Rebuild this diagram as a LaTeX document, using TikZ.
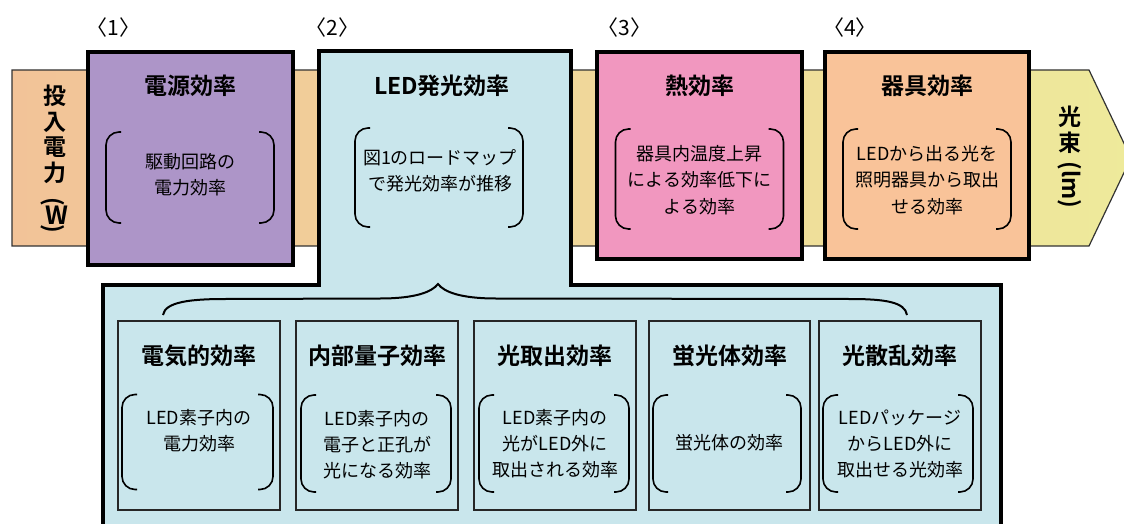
\documentclass[tikz,border=0pt]{standalone}
\usepackage{fontspec}
\setmainfont{Noto Sans CJK JP}[BoldFont={Noto Sans CJK JP Bold}]
\usepackage{graphicx}
\definecolor{bandL}{HTML}{F2C398}
\definecolor{bandR}{HTML}{EEEA9B}
\definecolor{cpurple}{HTML}{AD95C8}
\definecolor{cblue}{HTML}{C9E6EC}
\definecolor{cpink}{HTML}{F197BF}
\definecolor{corange}{HTML}{F9C399}
\begin{document}
\begin{tikzpicture}[x=1pt,y=-1pt,
  mainbox/.style={draw=black, line width=4pt, inner sep=0pt, outer sep=0pt},
  subbox/.style={draw=black!85, line width=2pt, fill=cblue, inner sep=0pt, outer sep=0pt, minimum width=162pt, minimum height=189pt},
  ttl/.style={font=\bfseries\fontsize{23}{28}\selectfont, inner sep=0pt},
  body/.style={font=\fontsize{18}{26.5}\selectfont, align=center, inner sep=0pt},
  numlbl/.style={font=\fontsize{21}{24}\selectfont, inner sep=0pt},
  vt/.style={font=\bfseries\fontsize{23}{25.5}\selectfont, align=center, inner sep=0pt},
  brk/.style={inner sep=0pt, outer sep=0pt},
  brkline/.style={line width=1.6pt, rounded corners=13pt},
]
\useasboundingbox (0,0) rectangle (1124,524);
\clip (0,0) rectangle (1124,524);

% flow band
\path[draw=black!80, line width=1.2pt, left color=bandL, right color=bandR]
  (12,70) -- (1089,70) -- (1131,158) -- (1089,246) -- (12,246) -- cycle;

% box 2 (L-shaped, with lower detail area)
\draw[line width=4pt, fill=cblue] (319,51) -- (571,51) -- (571,285) -- (1001,285)
  -- (1001,545) -- (103,545) -- (103,285) -- (319,285) -- cycle;

% main boxes
\node[mainbox, fill=cpurple, minimum width=205pt, minimum height=213pt] (b1) at (190.5,158.5) {};
\node[mainbox, fill=cpink, minimum width=205pt, minimum height=207pt] (b3) at (699.5,155.5) {};
\node[mainbox, fill=corange, minimum width=204pt, minimum height=207pt] (b4) at (927,155.5) {};

% numbers
\node[numlbl] (n1) at (113.5,28) {〈1〉};
\node[numlbl] (n2) at (332.5,28) {〈2〉};
\node[numlbl] (n3) at (624.5,28) {〈3〉};
\node[numlbl] (n4) at (850,28) {〈4〉};

% side labels
\node[vt, anchor=north] (inp) at (55,85) {投\\入\\電\\力\\[-9pt]\rotatebox{-90}{(\rotatebox{90}{\fontsize{25}{25}\selectfont W})}};
\node[vt, anchor=north] (out) at (1070,106) {光\\束\\[-15pt]\rotatebox{-90}{(lm)}};

% titles
\node[ttl] (t1) at (190,86) {電源効率};
\node[ttl] (t2) at (442,86) {LED発光効率};
\node[ttl] (t3) at (699.5,86) {熱効率};
\node[ttl] (t4) at (927,86) {器具効率};

% bracket areas (main)
\node[brk, minimum width=168pt, minimum height=91pt] (k1) at (190,177.5) {};
\node[brk, minimum width=168pt, minimum height=99pt] (k2) at (439,177.5) {};
\node[brk, minimum width=168pt, minimum height=100pt] (k3) at (699.5,179) {};
\node[brk, minimum width=168pt, minimum height=100pt] (k4) at (927,179) {};

\node[body] (x1) at (190,174.5) {駆動回路の\\電力効率};
\node[body] (x2) at (440,171) {図1のロードマップ\\で発光効率が推移};
\node[body] (x3) at (699.5,180) {器具内温度上昇\\による効率低下に\\よる効率};
\node[body] (x4) at (927,180) {LEDから出る光を\\照明器具から取出\\せる効率};

% brace
\coordinate (bl) at (163,315);
\coordinate (bt) at (438,284);
\coordinate (br) at (907,315);
\draw[line width=2pt] (bl) .. controls (165,302) and (190,299) .. (225,299) -- (380,298.5)
  .. controls (415,298.5) and (432,292) .. (bt)
  .. controls (444,292) and (461,298.5) .. (496,298.5) -- (850,299)
  .. controls (885,299) and (905,302) .. (br);

% sub boxes
\node[subbox] (s1) at (199,415.5) {};
\node[subbox] (s2) at (377,415.5) {};
\node[subbox] (s3) at (555,415.5) {};
\node[subbox, minimum width=161pt] (s4) at (729.5,415.5) {};
\node[subbox] (s5) at (900,415.5) {};

\node[ttl] (u1) at (199,356) {電気的効率};
\node[ttl] (u2) at (377,356) {内部量子効率};
\node[ttl] (u3) at (555,356) {光取出効率};
\node[ttl] (u4) at (729.5,356) {蛍光体効率};
\node[ttl] (u5) at (900,356) {光散乱効率};

\node[brk, minimum width=151pt, minimum height=95pt] (q1) at (197.5,442) {};
\node[brk, minimum width=150pt, minimum height=97pt] (q2) at (376,443.5) {};
\node[brk, minimum width=150pt, minimum height=97pt] (q3) at (554,443.5) {};
\node[brk, minimum width=148pt, minimum height=97pt] (q4) at (727,443.5) {};
\node[brk, minimum width=150pt, minimum height=97pt] (q5) at (898,443.5) {};

\node[body, font=\fontsize{18}{26}\selectfont] (y1) at (199,431) {LED素子内の\\電力効率};
\node[body, font=\fontsize{18}{26}\selectfont] (y2) at (377,445) {LED素子内の\\電子と正孔が\\光になる効率};
\node[body, font=\fontsize{18}{26}\selectfont] (y3) at (555,444) {LED素子内の\\光がLED外に\\取出される効率};
\node[body, font=\fontsize{18}{26}\selectfont] (y4) at (729.5,443) {蛍光体の効率};
\node[body, font=\fontsize{18}{26}\selectfont] (y5) at (900,444) {LEDパッケージ\\からLED外に\\取出せる光効率};

\foreach \n in {k1,k2,k3,k4,q1,q2,q3,q4,q5}{
  \draw[brkline] ([xshift=15pt]\n.north west) -- (\n.north west) -- (\n.south west) -- ([xshift=15pt]\n.south west);
  \draw[brkline] ([xshift=-15pt]\n.north east) -- (\n.north east) -- (\n.south east) -- ([xshift=-15pt]\n.south east);
}
\end{tikzpicture}
\end{document}
